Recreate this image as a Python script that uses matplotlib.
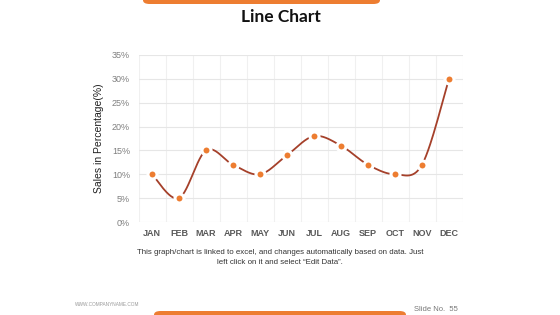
import numpy as np
import matplotlib
matplotlib.use("Agg")
import matplotlib.pyplot as plt
from matplotlib.patches import FancyBboxPatch
from matplotlib.ticker import FuncFormatter

# data
months = ["JAN", "FEB", "MAR", "APR", "MAY", "JUN", "JUL", "AUG", "SEP", "OCT", "NOV", "DEC"]
sales = [10, 5, 15, 12, 10, 14, 18, 16, 12, 10, 12, 30]

plt.rcParams['font.family'] = ['Liberation Sans', 'DejaVu Sans']

orange = "#ED7D31"
line_col = "#A5402A"


def smooth(xs, ys, n=30):
    # excel-like smoothed line (catmull-rom bezier)
    xs = np.asarray(xs, float)
    ys = np.asarray(ys, float)
    px, py = [], []
    for i in range(len(xs) - 1):
        x0, y0 = (xs[i - 1], ys[i - 1]) if i > 0 else (xs[i], ys[i])
        x3, y3 = (xs[i + 2], ys[i + 2]) if i + 2 < len(xs) else (xs[i + 1], ys[i + 1])
        x1, y1 = xs[i], ys[i]
        x2, y2 = xs[i + 1], ys[i + 1]
        c1x, c1y = x1 + (x2 - x0) / 6, y1 + (y2 - y0) / 6
        c2x, c2y = x2 - (x3 - x1) / 6, y2 - (y3 - y1) / 6
        t = np.linspace(0, 1, n)
        bx = (1 - t) ** 3 * x1 + 3 * (1 - t) ** 2 * t * c1x + 3 * (1 - t) * t ** 2 * c2x + t ** 3 * x2
        by = (1 - t) ** 3 * y1 + 3 * (1 - t) ** 2 * t * c1y + 3 * (1 - t) * t ** 2 * c2y + t ** 3 * y2
        px.extend(bx)
        py.extend(by)
    return px, py


fig = plt.figure(figsize=(5.6, 3.15), dpi=100)

# top and bottom orange bars
fig.patches.append(FancyBboxPatch((143 / 560, 1 - 4 / 315), 237 / 560, 10 / 315,
                                  boxstyle="round,pad=0,rounding_size=0.012",
                                  transform=fig.transFigure, fc=orange, ec="none"))
fig.patches.append(FancyBboxPatch((154 / 560, -6 / 315), 252 / 560, 10 / 315,
                                  boxstyle="round,pad=0,rounding_size=0.012",
                                  transform=fig.transFigure, fc=orange, ec="none"))

fig.text(281 / 560, 1 - 17 / 315, "Line Chart", ha="center", va="center",
         fontsize=12.5, fontweight="bold", color="#111111", family=["Lato", "DejaVu Sans"])

ax = fig.add_axes([138.5 / 560, 1 - 222 / 315, 324 / 560, 167 / 315])
x = np.arange(len(months))
sx, sy = smooth(x, sales)
ax.plot(sx, sy, color=line_col, lw=1.3, zorder=2)
ax.plot(x, sales, "o", color=orange, ms=6.5, mec="white", mew=2.2, zorder=3)

ax.set_xlim(-0.5, len(months) - 0.5)
ax.set_ylim(0, 35)
ax.set_yticks(range(0, 36, 5))
ax.yaxis.set_major_formatter(FuncFormatter(lambda v, p: f"{v:.0f}%"))
ax.set_xticks(x)
ax.set_xticklabels(months, fontweight="bold")
ax.set_xticks(np.arange(-0.5, len(months), 1), minor=True)
ax.grid(axis="y", color="#E6E6E6", lw=0.8)
ax.grid(axis="x", which="minor", color="#F0F0F0", lw=0.8)
ax.tick_params(which="both", length=0, labelsize=6.5)
ax.tick_params(axis="y", pad=6, colors="#7F7F7F")
ax.tick_params(axis="x", pad=5, colors="#595959")
for s in ax.spines.values():
    s.set_visible(False)
ax.set_ylabel("Sales in Percentage(%)", fontsize=7.5, color="#222222", labelpad=6)

fig.text(0.5, 1 - 253 / 315,
         "This graph/chart is linked to excel, and changes automatically based on data. Just",
         ha="center", va="center", fontsize=5.7, color="#333333")
fig.text(0.5, 1 - 262 / 315, "left click on it and select \u201cEdit Data\u201d.",
         ha="center", va="center", fontsize=5.7, color="#333333")

fig.text(75 / 560, 1 - 305 / 315, "WWW.COMPANYNAME.COM", ha="left", va="center",
         fontsize=3.4, color="#999999")
fig.text(414 / 560, 1 - 309.5 / 315, "Slide No.  55", ha="left", va="center",
         fontsize=5.5, color="#777777")

fig.savefig("out.png", dpi=100)
